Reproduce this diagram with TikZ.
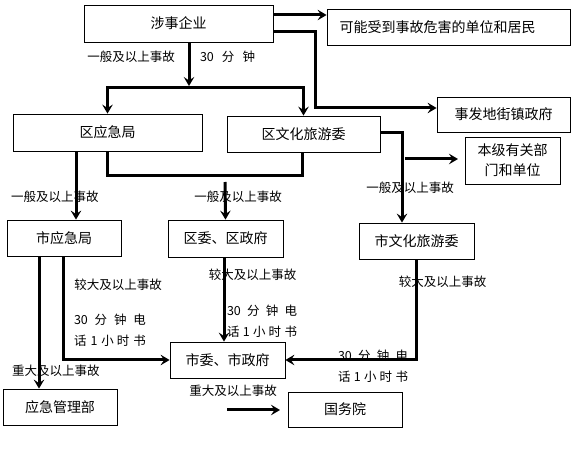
\documentclass[tikz,border=0pt]{standalone}
\usepackage{fontspec}
\newfontfamily\cjk{Noto Sans CJK SC}
\usetikzlibrary{arrows.meta}
\begin{document}
\begin{tikzpicture}[x=1pt,y=-1pt,
  box/.style={draw,line width=0.8pt,inner sep=0pt,font=\cjk\fontsize{14}{20}\selectfont},
  lbl/.style={inner sep=0pt,font=\cjk\fontsize{12.5}{21}\selectfont,align=left},
  conn/.style={line width=3pt},
  arr/.style={line width=3pt,-{Stealth[length=9pt,width=10.5pt,inset=3.5pt]}}]
\useasboundingbox (0,0) rectangle (571,449);
% boxes
\node[box,minimum width=189pt,minimum height=37pt] (qy) at (178.5,23.5) {涉事企业};
\node[box,minimum width=243pt,minimum height=36pt] (kn) at (448.5,27) {可能受到事故危害的单位和居民\hspace*{22pt}};
\node[box,minimum width=133pt,minimum height=35pt] (jz) at (503.5,114.5) {事发地街镇政府};
\node[box,minimum width=189pt,minimum height=37pt] (qyjj) at (107.5,132.5) {区应急局};
\node[box,minimum width=153pt,minimum height=36pt] (qwl) at (303.5,134) {区文化旅游委};
\node[box,minimum width=95pt,minimum height=47pt,align=center] (bj) at (512.5,160.5) {本级有关部\\门和单位};
\node[box,minimum width=114pt,minimum height=36pt] (syj) at (64,238) {市应急局};
\node[box,minimum width=115pt,minimum height=37pt] (qw) at (225.5,238.5) {区委、区政府};
\node[box,minimum width=115pt,minimum height=36pt] (swl) at (416.5,241) {市文化旅游委};
\node[box,minimum width=115pt,minimum height=36pt] (sw) at (227.5,360) {市委、市政府};
\node[box,minimum width=114pt,minimum height=36pt] (yjb) at (60,407) {应急管理部};
\node[box,minimum width=114pt,minimum height=35pt] (gwy) at (345,409.5) {国务院};
% labels
\node[lbl] (l1) at (131,57) {一般及以上事故};
\node[lbl] (l2) at (227.5,57) {\makebox[55pt][s]{30\hfill 分\hfill 钟}};
\node[lbl] (l3) at (55,197) {一般及以上事故};
\node[lbl] (l4) at (238,197) {一般及以上事故};
\node[lbl] (l5) at (410,188) {一般及以上事故};
\node[lbl] (l6) at (118,285) {较大及以上事故};
\node[lbl] (l7) at (110,330.5) {\makebox[72pt][s]{30\hfill 分\hfill 钟\hfill 电}\\\makebox[72pt][s]{话\hfill 1\hfill 小\hspace{3pt}时\hfill 书}};
\node[lbl] (l8) at (252.5,275) {较大及以上事故};
\node[lbl] (l9) at (262,321.5) {\makebox[70pt][s]{30\hfill 分\hfill 钟\hfill 电}\\\makebox[70pt][s]{话\hfill 1\hfill 小\hspace{3pt}时\hfill 书}};
\node[lbl] (l10) at (442.5,282) {较大及以上事故};
\node[lbl] (l11) at (373,366.5) {\makebox[70pt][s]{30\hfill 分\hfill 钟\hfill 电}\\\makebox[70pt][s]{话\hfill 1\hfill 小\hspace{3pt}时\hfill 书}};
\node[lbl] (l12) at (56,371) {重大及以上事故};
\node[lbl] (l13) at (233,391) {重大及以上事故};
% junction coordinates
\coordinate (j1) at (189,88);
\coordinate (j2) at (225,182);
\coordinate (j3) at (405,159);
\coordinate (j4) at (458,159);
\coordinate (j5) at (227,410);
\coordinate (j6) at (280,410);
% connectors
\draw[arr] (qy.east |- 0,15) -- (kn.west |- 0,15);
\draw[arr] (qy.east |- 0,32) -- (315,32) |- (jz.west |- 0,108);
\draw[arr] (qy.south -| 189,0) -- (189,86);
\draw[arr] (j1) -| (qyjj.north);
\draw[arr] (j1) -| (qwl.north);
\draw[arr] (qyjj.south -| 76,0) -- (syj.north -| 76,0);
\draw[conn] (qyjj.south -| 107,0) |- (302,176) -- (qwl.south -| 302,0);
\draw[arr] (j2) -- (qw.north);
\draw[arr] (qwl.east |- 0,133) -| (swl.north -| 402,0);
\draw[arr] (j3) -- (j4);
\draw[arr] (syj.south -| 39,0) -- (yjb.north -| 39,0);
\draw[arr] (syj.south -| 63,0) |- (sw.west);
\draw[arr] (qw.south -| 224,0) -- (sw.north -| 224,0);
\draw[arr] (swl.south) |- (sw.east);
\draw[arr] (j5) -- (j6);
\end{tikzpicture}
\end{document}
